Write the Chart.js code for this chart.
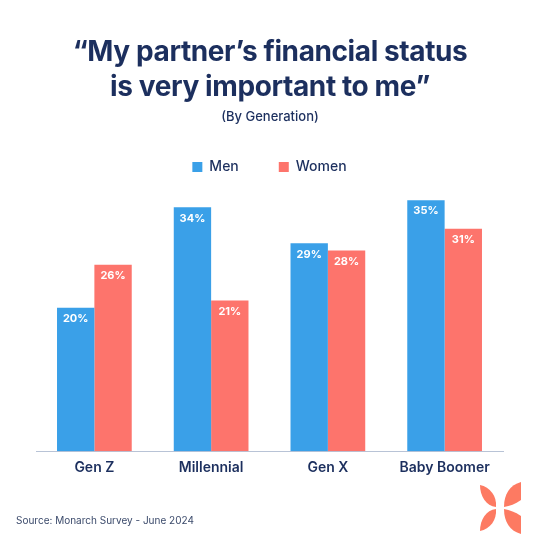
<!DOCTYPE html>
<html>
<head>
<meta charset="utf-8">
<script src="https://cdn.jsdelivr.net/npm/chart.js@4.4.1/dist/chart.umd.min.js"></script>
<style>
  body { margin: 0; background: #fff; }
  #wrap { position: relative; width: 540px; height: 540px; font-family: Inter, "Noto Sans", sans-serif; color: #1c2f5e; }
  #title { position: absolute; top: 34px; left: 0; width: 540px; text-align: center; font-size: 28px; font-weight: 700; line-height: 35px; letter-spacing: -0.4px; }
  #sub { position: absolute; top: 108px; left: 0; width: 540px; text-align: center; font-size: 13px; font-weight: 500; }
  #source { position: absolute; top: 514px; left: 16px; font-size: 10px; color: #3b4a6b; }
  canvas { position: absolute; top: 0; left: 0; }
</style>
</head>
<body>
<div id="wrap">
  <canvas id="chart" width="540" height="540"></canvas>
  <div id="title">“My partner’s financial status<br>is very important to me”</div>
  <div id="sub">(By Generation)</div>
  <div id="source">Source: Monarch Survey - June 2024</div>
</div>
<script>
const generations = ['Gen Z', 'Millennial', 'Gen X', 'Baby Boomer'];
const menValues = [20, 34, 29, 35];
const womenValues = [26, 21, 28, 31];

const navy = '#1c2f5e';
const blue = '#3aa0e8';
const red = '#fd746c';

// legend pushed down with a fixed height
const legendHeight = {
  id: 'legendHeight',
  beforeInit(chart) {
    const fit = chart.legend.fit;
    chart.legend.fit = function () {
      fit.bind(chart.legend)();
      this.height = 73;
    };
  }
};

// white percent labels inside the bars
const barLabels = {
  id: 'barLabels',
  afterDatasetsDraw(chart) {
    const ctx = chart.ctx;
    ctx.save();
    ctx.fillStyle = '#fff';
    ctx.font = 'bold 11px Inter, sans-serif';
    ctx.textAlign = 'center';
    ctx.textBaseline = 'middle';
    chart.data.datasets.forEach((ds, i) => {
      chart.getDatasetMeta(i).data.forEach((bar, j) => {
        ctx.fillText(ds.data[j] + '%', bar.x, bar.y + 11);
      });
    });
    ctx.restore();
  }
};

// butterfly logo bottom right
const logo = {
  id: 'logo',
  afterDraw(chart) {
    const ctx = chart.ctx;
    ctx.save();
    ctx.fillStyle = '#fd7a62';
    // left petals
    ctx.beginPath();
    ctx.moveTo(496, 507);
    ctx.bezierCurveTo(486, 506, 480, 496, 480, 485);
    ctx.bezierCurveTo(490, 487, 497, 496, 496, 507);
    ctx.fill();
    ctx.beginPath();
    ctx.moveTo(496, 509);
    ctx.bezierCurveTo(486, 510, 480, 520, 480, 531);
    ctx.bezierCurveTo(490, 529, 497, 520, 496, 509);
    ctx.fill();
    // right petals
    ctx.beginPath();
    ctx.moveTo(504, 507);
    ctx.bezierCurveTo(504, 494, 510, 485, 521, 482);
    ctx.lineTo(521, 500);
    ctx.bezierCurveTo(515, 504, 510, 506, 504, 507);
    ctx.fill();
    ctx.beginPath();
    ctx.moveTo(504, 509);
    ctx.bezierCurveTo(504, 522, 510, 531, 521, 534);
    ctx.lineTo(521, 516);
    ctx.bezierCurveTo(515, 512, 510, 510, 504, 509);
    ctx.fill();
    ctx.restore();
  }
};

new Chart(document.getElementById('chart'), {
  type: 'bar',
  data: {
    labels: generations,
    datasets: [
      { label: 'Men', data: menValues, backgroundColor: blue },
      { label: 'Women', data: womenValues, backgroundColor: red }
    ]
  },
  options: {
    responsive: false,
    animation: false,
    layout: { padding: { top: 120, left: 36, right: 37, bottom: 56 } },
    datasets: { bar: { barPercentage: 1, categoryPercentage: 0.64 } },
    scales: {
      x: {
        grid: { display: false, drawTicks: false },
        border: { display: true, color: '#b8c3d6', width: 1 },
        ticks: { color: navy, padding: 8, font: { family: 'Inter', size: 14, weight: 600 } }
      },
      y: { display: false, min: 0, max: 36 }
    },
    plugins: {
      legend: {
        position: 'top',
        labels: {
          color: navy,
          boxWidth: 10,
          boxHeight: 10,
          padding: 40,
          font: { family: 'Inter', size: 14, weight: 500 }
        }
      },
      tooltip: { enabled: false }
    }
  },
  plugins: [legendHeight, barLabels, logo]
});
</script>
</body>
</html>
